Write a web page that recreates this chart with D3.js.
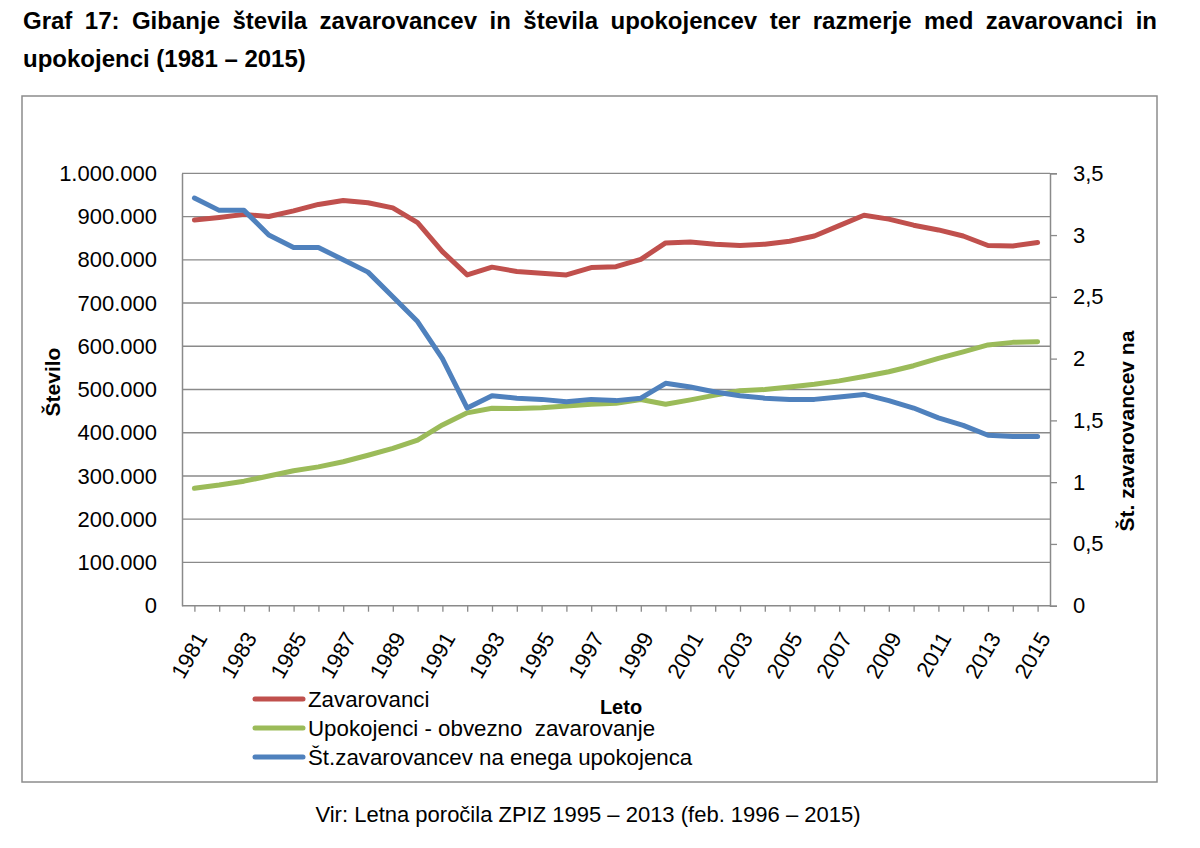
<!DOCTYPE html>
<html>
<head>
<meta charset="utf-8">
<script src="https://cdn.jsdelivr.net/npm/d3@7"></script>
<style>
  html, body { margin: 0; padding: 0; background: #fff; }
  svg { display: block; font-family: "Liberation Sans", Arial, sans-serif; }
</style>
</head>
<body>
<svg id="chart" width="1200" height="848"></svg>
<script>
// ---- Data ----
const years = d3.range(1981, 2016).map(String);
const zavarovanci = [892000, 898000, 905000, 900000, 913000, 928000, 937000, 932000, 920000, 886000,
  819000, 765000, 783000, 773000, 769000, 765000, 782000, 784000, 801000, 839000,
  841000, 836000, 833000, 836000, 843000, 855000, 879000, 903000, 894000, 880000,
  869000, 855000, 833000, 832000, 840000];
const upokojenci = [271500, 279000, 288000, 300000, 312000, 321000, 333000, 348000, 364000, 383000,
  418000, 446000, 456500, 456000, 458000, 462000, 466000, 468000, 477000, 466000,
  476000, 487000, 497000, 500000, 506000, 512000, 520000, 530000, 541000, 555000,
  572000, 587000, 603000, 609000, 610500];
const razmerje = [3.3, 3.2, 3.2, 3.0, 2.9, 2.9, 2.8, 2.7, 2.5, 2.3,
  2.0, 1.6, 1.7, 1.68, 1.67, 1.65, 1.67, 1.66, 1.68, 1.8,
  1.77, 1.73, 1.7, 1.68, 1.67, 1.67, 1.69, 1.71, 1.66, 1.6,
  1.52, 1.46, 1.38, 1.37, 1.37];
const leftTicks = d3.range(0, 1000001, 100000);
const rightTicks = d3.range(0, 3.51, 0.5);
const xLabelYears = years.filter((d, i) => i % 2 === 0);
const seriesNames = ["Zavarovanci", "Upokojenci - obvezno  zavarovanje", "Št.zavarovancev na enega upokojenca"];
const seriesColors = ["#C0504D", "#9BBB59", "#4F81BD"];
const titleLine1 = "Graf 17: Gibanje števila zavarovancev in števila upokojencev ter razmerje med zavarovanci in";
const titleLine2 = "upokojenci (1981 – 2015)";
const caption = "Vir: Letna poročila ZPIZ 1995 – 2013 (feb. 1996 – 2015)";

// ---- Layout ----
const svg = d3.select("#chart");
const plot = { left: 182, right: 1050, top: 173.3, bottom: 605.7 };
const gridColor = "#8a8a8a";

const x = d3.scalePoint().domain(years).range([plot.left, plot.right]).padding(0.5);
const yL = d3.scaleLinear().domain([0, 1000000]).range([plot.bottom, plot.top]);
const yR = d3.scaleLinear().domain([0, 3.5]).range([plot.bottom, plot.top]);

const loc = d3.formatLocale({ decimal: ",", thousands: ".", grouping: [3], currency: ["", " €"] });
const fmtL = loc.format(",d");
const fmtR = v => loc.format("~g")(v);

// Title (line 1 justified)
const titleG = svg.append("g").attr("font-weight", "bold").attr("font-size", 24).attr("fill", "#000");
const words = titleLine1.split(" ");
const x0 = 23, x1 = 1157;
const tmp = words.map(w => titleG.append("text").attr("y", 29.3).text(w));
const widths = tmp.map(t => t.node().getComputedTextLength());
const total = d3.sum(widths);
const gap = (x1 - x0 - total) / (words.length - 1);
let cx = x0;
tmp.forEach((t, i) => { t.attr("x", cx); cx += widths[i] + gap; });
titleG.append("text").attr("x", 23).attr("y", 66.7).text(titleLine2);

// Frame
svg.append("rect").attr("x", 22).attr("y", 96).attr("width", 1135).attr("height", 686)
  .attr("fill", "none").attr("stroke", "#8c8c8c").attr("stroke-width", 1.5);

// Gridlines
svg.append("g").selectAll("line").data(leftTicks.filter(d => d > 0)).join("line")
  .attr("x1", plot.left).attr("x2", plot.right)
  .attr("y1", d => yL(d)).attr("y2", d => yL(d))
  .attr("stroke", gridColor).attr("stroke-width", 1.3);

// Left axis
const axL = svg.append("g").attr("transform", `translate(${plot.left},0)`)
  .call(d3.axisLeft(yL).tickValues(leftTicks).tickFormat(fmtL).tickSize(0).tickPadding(25));
axL.select(".domain").attr("stroke", gridColor).attr("stroke-width", 1.5);
axL.selectAll("text").attr("font-size", 22).attr("font-family", "Liberation Sans, Arial, sans-serif").attr("fill", "#000");

// Right axis
const axR = svg.append("g").attr("transform", `translate(${plot.right},0)`)
  .call(d3.axisRight(yR).tickValues(rightTicks).tickFormat(fmtR).tickSize(7).tickPadding(16));
axR.select(".domain").attr("stroke", gridColor).attr("stroke-width", 1.5);
axR.selectAll("line").attr("stroke", gridColor).attr("stroke-width", 1.3);
axR.selectAll("text").attr("font-size", 22).attr("font-family", "Liberation Sans, Arial, sans-serif").attr("fill", "#000");

// Bottom axis
const axB = svg.append("g").attr("transform", `translate(0,${plot.bottom})`)
  .call(d3.axisBottom(x).tickSize(6).tickFormat(""));
axB.select(".domain").attr("stroke", gridColor).attr("stroke-width", 1.5).attr("d", `M${plot.left},0H${plot.right}`);
axB.selectAll("line").attr("stroke", gridColor).attr("stroke-width", 1.3);

// X labels (rotated)
svg.append("g").selectAll("text").data(xLabelYears).join("text")
  .attr("transform", d => `translate(${x(d) + 7},634) rotate(-60)`)
  .attr("text-anchor", "end").attr("dy", "0.35em")
  .attr("font-size", 22).attr("fill", "#000").text(d => d);

// Lines
const lineL = d3.line().x((d, i) => x(years[i])).y(d => yL(d));
const lineR = d3.line().x((d, i) => x(years[i])).y(d => yR(d));
const paths = [[zavarovanci, lineL], [upokojenci, lineL], [razmerje, lineR]];
paths.forEach(([data, gen], i) => {
  svg.append("path").attr("d", gen(data)).attr("fill", "none")
    .attr("stroke", seriesColors[i]).attr("stroke-width", 5)
    .attr("stroke-linejoin", "round").attr("stroke-linecap", "round");
});

// Axis titles
svg.append("text").attr("transform", "translate(60,382) rotate(-90)")
  .attr("text-anchor", "middle").attr("font-weight", "bold").attr("font-size", 21).text("Število");
svg.append("text").attr("transform", "translate(1134,431) rotate(-90)")
  .attr("text-anchor", "middle").attr("font-weight", "bold").attr("font-size", 21).text("Št. zavarovancev na");
svg.append("text").attr("x", 621).attr("y", 714).attr("text-anchor", "middle")
  .attr("font-weight", "bold").attr("font-size", 20).text("Leto");

// Legend
const legY = [699, 728, 757];
const leg = svg.append("g").selectAll("g").data(seriesNames).join("g");
leg.append("line").attr("x1", 255).attr("x2", 303).attr("y1", (d, i) => legY[i]).attr("y2", (d, i) => legY[i])
  .attr("stroke", (d, i) => seriesColors[i]).attr("stroke-width", 5).attr("stroke-linecap", "round");
leg.append("text").attr("x", 308).attr("y", (d, i) => legY[i] + 8).attr("font-size", 22.3)
  .attr("fill", "#000").attr("xml:space", "preserve").style("white-space", "pre").text(d => d);

// Caption
svg.append("text").attr("x", 588).attr("y", 822).attr("text-anchor", "middle")
  .attr("font-size", 22).attr("fill", "#000").text(caption);
</script>
</body>
</html>
